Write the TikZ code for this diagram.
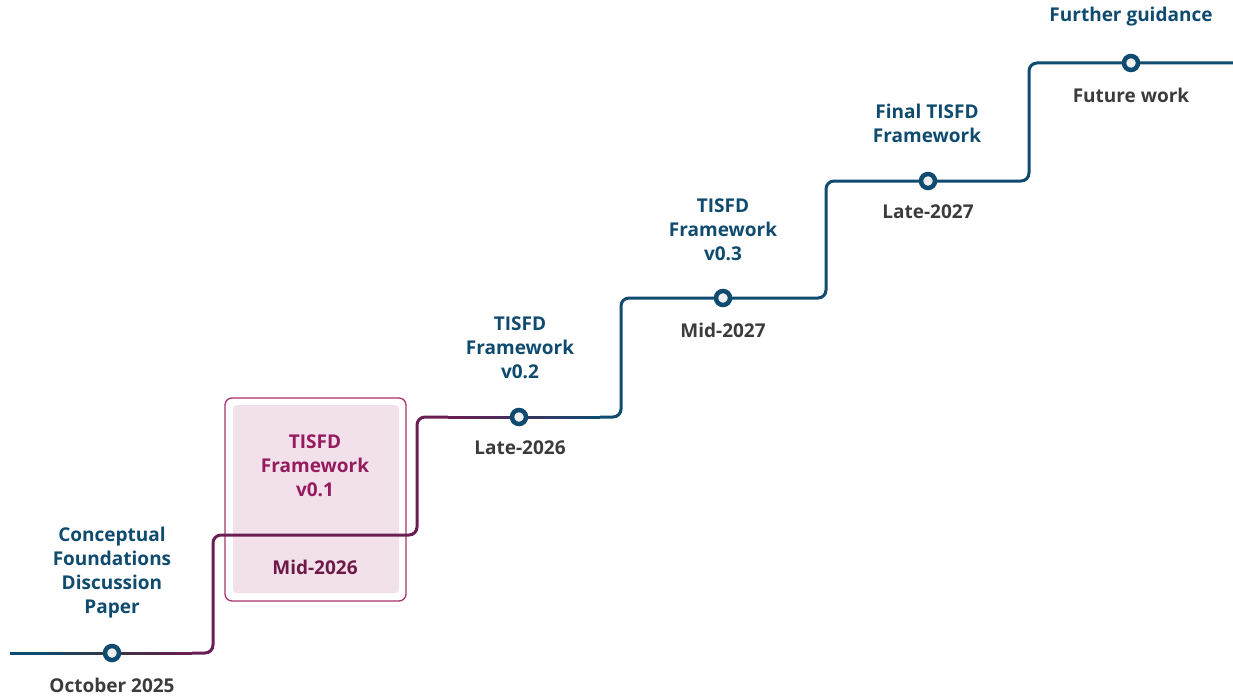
\documentclass[tikz,border=0pt]{standalone}
\usepackage{fontspec}
\setmainfont{Open Sans}
\definecolor{navy}{HTML}{0F4A6F}
\definecolor{gtext}{HTML}{3B3B3B}
\definecolor{purp}{HTML}{6A1D52}
\definecolor{ptitle}{HTML}{951B5E}
\definecolor{pdate}{HTML}{6E1A47}
\definecolor{boxfill}{HTML}{F2E0EA}
\definecolor{boxline}{HTML}{A8336F}
\definecolor{dotfill}{HTML}{F0F0F0}
\definecolor{midgray}{HTML}{3A3440}
\tikzset{
  lbl/.style={align=center, font=\bfseries\fontsize{19}{24}\selectfont, inner sep=0pt},
  title/.style={lbl, text=navy},
  datelbl/.style={lbl, text=gtext},
  dot/.style={circle, draw=navy, fill=dotfill, line width=4.5pt, minimum size=14pt, inner sep=0pt},
  track/.style={line width=3pt, rounded corners=8pt},
  seg/.style={line width=3pt},
}
\begin{document}
\begin{tikzpicture}[x=1pt, y=-1pt]
\useasboundingbox (0,0) rectangle (1233,698);
% highlight box for v0.1
\node (box) [draw=boxline, line width=1.3pt, rounded corners=7pt, minimum width=181pt, minimum height=203pt, inner sep=0pt] at (315.5,499.5) {};
\node (boxin) [fill=boxfill, rounded corners=4pt, minimum width=166pt, minimum height=188pt, inner sep=0pt] at (316,499) {};
% track
\coordinate (s) at (10,653);
\coordinate (a1) at (40,653);
\coordinate (q1) at (192,653);
\coordinate (p1) at (213,535);
\coordinate (p2) at (417,417);
\coordinate (q2) at (448,417);
\coordinate (a2) at (600,417);
\coordinate (p3) at (621,298);
\coordinate (p4) at (826,181);
\coordinate (p5) at (1029,63);
\coordinate (e) at (1233,63);
\draw[track, navy] (s) -- (a1);
\draw[track, purp] (q1) -| (p1) -| (p2) -- (q2);
\draw[track, navy] (a2) -| (p3) -| (p4) -| (p5) -- (e);
% colour blend, lower step: navy -> grey -> purple
\foreach \i in {0,...,37} {
  \pgfmathsetmacro\p{100*\i/37}
  \draw[seg, color=midgray!\p!navy] (40+2*\i,653) -- (42.3+2*\i,653);
}
\foreach \i in {0,...,38} {
  \pgfmathsetmacro\p{100*\i/38}
  \draw[seg, color=purp!\p!midgray] (114+2*\i,653) -- (116.3+2*\i,653);
}
% colour blend, upper step: purple -> navy
\foreach \i in {0,...,75} {
  \pgfmathsetmacro\p{100*\i/75}
  \draw[seg, color=navy!\p!purp] (448+2*\i,417) -- (450.3+2*\i,417);
}
% dots
\node (c1) [dot] at (112,653) {};
\node (c3) [dot] at (519,417) {};
\node (c4) [dot] at (723,298) {};
\node (c5) [dot] at (928,181) {};
\node (c6) [dot] at (1131,63) {};
% labels
\node (t1) [title] at (112,573) {Conceptual\\Foundations\\Discussion\\Paper};
\node (d1) [datelbl] at (112,685) {October 2025};
\node (t2) [lbl, text=ptitle] at (315,466) {TISFD\\Framework\\v0.1};
\node (d2) [lbl, text=pdate] at (315,567) {Mid-2026};
\node (t3) [title] at (520,348) {TISFD\\Framework\\v0.2};
\node (d3) [datelbl] at (520,448) {Late-2026};
\node (t4) [title] at (723,230) {TISFD\\Framework\\v0.3};
\node (d4) [datelbl] at (723,330) {Mid-2027};
\node (t5) [title] at (927,123) {Final TISFD\\Framework};
\node (d5) [datelbl] at (928,212) {Late-2027};
\node (t6) [title] at (1131,17) {Further guidance};
\node (d6) [datelbl] at (1131,95) {Future work};
\end{tikzpicture}
\end{document}
